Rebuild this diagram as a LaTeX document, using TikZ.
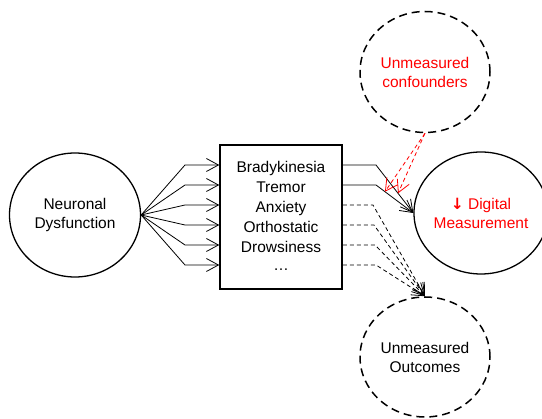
\documentclass[tikz,border=0pt]{standalone}
\usepackage{fontspec}
\setmainfont{Liberation Sans}
\newfontfamily\arrowfont{DejaVu Sans}
\usetikzlibrary{arrows.meta,shapes.geometric}
\begin{document}
\begin{tikzpicture}[x=1pt,y=-1pt,
  txt/.style={font=\fontsize{15.5}{19}\selectfont, align=center},
  solidcirc/.style={ellipse, draw, line width=1.3pt, inner sep=0pt, txt},
  dashcirc/.style={ellipse, draw, line width=1.5pt, dash pattern=on 8pt off 5pt, inner sep=0pt, txt},
  rowtxt/.style={txt, inner sep=0pt, text height=10.5pt, text depth=3pt},
  conn/.style={line width=0.8pt, -{Straight Barb[length=12pt,width=13pt]}},
  dconn/.style={conn, dash pattern=on 4pt off 3pt},
  rconn/.style={conn, red, dash pattern=on 4pt off 3pt}
]
\useasboundingbox (0,0) rectangle (542,419);
% nodes
\node[solidcirc, minimum width=118pt, minimum height=122pt, text=red] (dm) at (481,213) {{\arrowfont\bfseries ↓} Digital\\Measurement};
\node[solidcirc, minimum width=131pt, minimum height=124pt] (nd) at (75,215) {Neuronal\\Dysfunction};
\node[draw, line width=1.5pt, minimum width=122pt, minimum height=144pt, inner sep=0pt] (box) at (281,217) {};
\node[dashcirc, minimum width=130pt, minimum height=121pt, text=red] (uc) at (425,72) {Unmeasured\\confounders};
\node[dashcirc, minimum width=130pt, minimum height=120pt] (uo) at (425,357) {Unmeasured\\Outcomes};
% row texts
\node[rowtxt] (r1) at (281,169) {Bradykinesia};
\node[rowtxt] (r2) at (281,189) {Tremor};
\node[rowtxt] (r3) at (281,209) {Anxiety};
\node[rowtxt] (r4) at (281,229) {Orthostatic};
\node[rowtxt] (r5) at (281,249) {Drowsiness};
\node[rowtxt] (r6) at (281,267) {\dots};
% entry / exit points on the box
\foreach \i/\y in {1/165,2/185,3/205,4/225,5/245,6/265}{
  \coordinate (L\i) at (box.west |- 0,\y);
  \coordinate (R\i) at (box.east |- 0,\y);
}
% left fan
\foreach \i/\y in {1/165,2/185,3/205,4/225,5/245,6/265}{
  \draw[conn] (nd.east) -- (185,\y) -- (L\i);
}
% right solid arrows
\draw[conn] (R1) -- (376,165) -- coordinate[pos=0.59] (b1) (dm.west);
\draw[conn] (R2) -- (376,185) -- coordinate[pos=0.24] (t2) (dm.west);
% right dashed arrows
\draw[dconn] (R3) -- (373,205) -- (uo.north);
\draw[dconn] (R4) -- (374,225) -- (uo.north);
\draw[dconn] (R5) -- (375,245) -- (uo.north);
\draw[dconn] (R6) -- (376,265) -- (uo.north);
% confounder arrows
\draw[rconn] (uc.south) -- (t2);
\draw[rconn] (uc.south) -- (b1);
\end{tikzpicture}
\end{document}
